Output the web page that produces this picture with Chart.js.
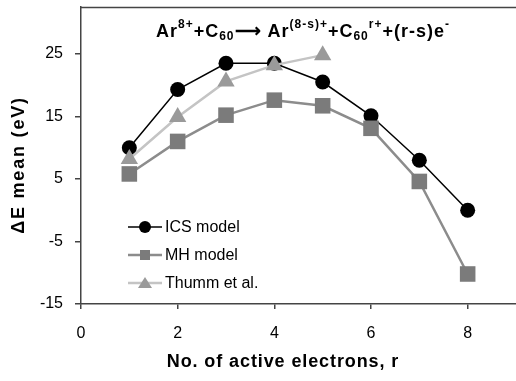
<!DOCTYPE html>
<html>
<head>
<meta charset="utf-8">
<script src="https://cdn.jsdelivr.net/npm/chart.js@4.4.1/dist/chart.umd.min.js"></script>
<style>
    html, body { margin: 0; padding: 0; background: #fff; }
    canvas { display: block; }
</style>
</head>
<body>
<canvas id="energyChart" width="516" height="381"></canvas>
<script>
// values
let electrons = [1, 2, 3, 4, 5, 6, 7, 8],
    icsValues = [10.0, 19.3, 23.5, 23.5, 20.5, 15.1, 8.0, 0.0],
    mhValues = [5.8, 11.0, 15.2, 17.6, 16.7, 13.1, 4.6, -10.2],
    thummValues = [8.2, 14.9, 20.6, 23.2, 24.8],
    xTicks = [0, 2, 4, 6, 8],
    yTicks = [-15, -5, 5, 15, 25],
    seriesNames = ['ICS model', 'MH model', 'Thumm et al.'],
    xTitle = 'No. of active electrons, r',
    yTitle = '\u0394E mean (eV)';

const FONT = "'Liberation Sans', Arial, sans-serif";

function points(xs, ys) {
    return ys.map(function (v, k) { return { x: xs[k], y: v }; });
}

// no extra room for the end labels, the box fills the canvas
function noPadding(axis) {
    axis.paddingLeft = 0;
    axis.paddingRight = 0;
    axis.paddingTop = 0;
    axis.paddingBottom = 0;
}

// reaction formula, axis titles (letter spaced) and the top border
const textPlugin = {
    id: 'texts',
    afterDraw: function (chart) {
        let ctx = chart.ctx,
            a = chart.chartArea,
            parts = [
                ['Ar', 0], ['8+', 1], ['+C', 0], ['60', -1], ['\u27F6 Ar', 0], ['(8-s)+', 1],
                ['+C', 0], ['60', -1], ['r+', 1], ['+(r-s)e', 0], ['-', 1]
            ],
            x = 156, base = 37;
        ctx.save();
        ctx.fillStyle = '#000';
        ctx.textBaseline = 'alphabetic';
        ctx.letterSpacing = '1px';
        parts.forEach(function (p) {
            ctx.font = 'bold ' + (p[1] === 0 ? 18 : 12) + 'px ' + FONT;
            let y = base - (p[1] === 1 ? 9 : 0) + (p[1] === -1 ? 3 : 0);
            ctx.fillText(p[0], x, y);
            x += ctx.measureText(p[0]).width;
        });

        ctx.font = 'bold 18px ' + FONT;
        ctx.textAlign = 'center';
        ctx.textBaseline = 'middle';
        ctx.letterSpacing = '0.9px';
        ctx.fillText(xTitle, 283, 362);

        ctx.letterSpacing = '1.8px';
        ctx.translate(19, 165);
        ctx.rotate(-Math.PI / 2);
        ctx.fillText(yTitle, 0, 0);
        ctx.restore();

        ctx.save();
        ctx.strokeStyle = '#444';
        ctx.lineWidth = 1.5;
        ctx.beginPath();
        ctx.moveTo(a.left, a.top + 0.5);
        ctx.lineTo(a.right, a.top + 0.5);
        ctx.stroke();
        ctx.restore();
    }
};

// legend inside the plot, lower left
const legendPlugin = {
    id: 'insideLegend',
    afterDraw: function (chart) {
        let ctx = chart.ctx,
            rows = [227, 255, 283],
            cx = 145;
        ctx.save();
        seriesNames.forEach(function (name, k) {
            let ds = chart.data.datasets.find(function (d) { return d.label === name; }),
                y = rows[k];
            ctx.strokeStyle = ds.borderColor;
            ctx.lineWidth = ds.borderWidth;
            ctx.beginPath();
            ctx.moveTo(128, y);
            ctx.lineTo(162, y);
            ctx.stroke();
            ctx.fillStyle = ds.pointBackgroundColor;
            ctx.beginPath();
            if (ds.pointStyle === 'circle') {
                ctx.arc(cx, y, 6, 0, Math.PI * 2);
            } else if (ds.pointStyle === 'rect') {
                ctx.rect(cx - 5, y - 5, 10, 10);
            } else {
                ctx.moveTo(cx, y - 6);
                ctx.lineTo(cx + 7, y + 5);
                ctx.lineTo(cx - 7, y + 5);
                ctx.closePath();
            }
            ctx.fill();
            ctx.fillStyle = '#000';
            ctx.font = '16px ' + FONT;
            ctx.textBaseline = 'middle';
            ctx.fillText(name, 165, y + 1);
        });
        ctx.restore();
    }
};

let ctx = document.getElementById('energyChart'),
    myChart = new Chart(ctx, {
        type: 'line',
        data: {
            datasets: [{
                label: seriesNames[0],
                data: points(electrons, icsValues),
                order: 2,
                borderColor: '#000',
                borderWidth: 1.5,
                pointStyle: 'circle',
                pointRadius: 7.5,
                pointBackgroundColor: '#000',
                pointBorderWidth: 0
            }, {
                label: seriesNames[1],
                data: points(electrons, mhValues),
                order: 1,
                borderColor: '#8c8c8c',
                borderWidth: 2.5,
                pointStyle: 'rect',
                pointRadius: 11,
                pointBackgroundColor: '#7b7b7b',
                pointBorderWidth: 0
            }, {
                label: seriesNames[2],
                data: points(electrons, thummValues),
                order: 0,
                borderColor: '#c4c4c4',
                borderWidth: 2.5,
                pointStyle: 'triangle',
                pointRadius: 10,
                pointBackgroundColor: '#9a9a9a',
                pointBorderWidth: 0
            }]
        },
        options: {
            responsive: false,
            animation: false,
            layout: { autoPadding: false, padding: { top: 7, right: 0, left: 0, bottom: 0 } },
            plugins: {
                legend: { display: false },
                tooltip: { enabled: false }
            },
            scales: {
                x: {
                    type: 'linear',
                    min: 0,
                    max: 9,
                    afterBuildTicks: function (axis) {
                        axis.ticks = xTicks.map(function (v) { return { value: v }; });
                    },
                    afterFit: function (axis) {
                        axis.height = 77;
                        noPadding(axis);
                    },
                    grid: { drawOnChartArea: false, tickLength: 5, color: '#444', lineWidth: 1.5 },
                    border: { color: '#444', width: 1.5 },
                    ticks: { color: '#000', font: { family: FONT, size: 16 }, padding: 15, maxRotation: 0 }
                },
                y: {
                    min: -15,
                    max: 32.5,
                    afterBuildTicks: function (axis) {
                        axis.ticks = yTicks.map(function (v) { return { value: v }; });
                    },
                    afterFit: function (axis) {
                        axis.width = 81;
                        noPadding(axis);
                    },
                    grid: { drawOnChartArea: false, tickLength: 6, color: '#444', lineWidth: 1.5 },
                    border: { color: '#444', width: 1.5 },
                    ticks: { color: '#000', font: { family: FONT, size: 16 }, padding: 12 }
                }
            }
        },
        plugins: [textPlugin, legendPlugin]
    });
</script>
</body>
</html>
